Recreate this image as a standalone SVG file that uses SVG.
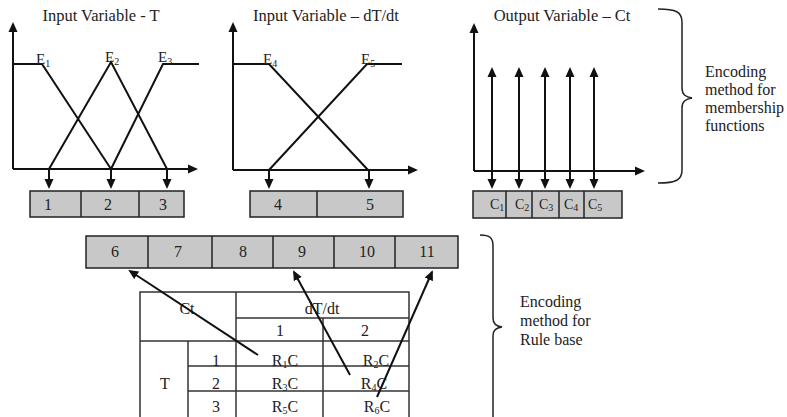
<svg xmlns="http://www.w3.org/2000/svg" width="787" height="417" viewBox="0 0 787 417">
<defs>
<marker id="ah" viewBox="0 0 10 10" refX="8" refY="5" markerWidth="10" markerHeight="10" markerUnits="userSpaceOnUse" orient="auto-start-reverse">
<path d="M0,0.5 L10,5 L0,9.5 z" fill="#111"/>
</marker>
<style>
text{font-family:"Liberation Serif","Times New Roman",serif;fill:#222}
.h{font-size:16.5px;text-anchor:middle}
.t{font-size:16px}
.n{font-size:16px;text-anchor:middle}
.s{font-size:10px}
.tb{font-size:16px;text-anchor:middle}
.ax{stroke:#111;stroke-width:2;fill:none}
.mf{stroke:#111;stroke-width:2;fill:none}
.ar{stroke:#111;stroke-width:2;fill:none;marker-end:url(#ah)}
.da{stroke:#111;stroke-width:2;fill:none;marker-end:url(#ah);marker-start:url(#ah)}
.box{fill:#c8c8c8;stroke:#222;stroke-width:1.5}
.dv{stroke:#222;stroke-width:1.5}
.tl{stroke:#333;stroke-width:1.5;fill:none}
.br{stroke:#222;stroke-width:1.5;fill:none}
</style>
</defs>

<g id="chartT">
<text class="h" x="101" y="21">Input Variable - T</text>
<line class="ar" x1="13" y1="169" x2="13" y2="24"/>
<line class="ar" x1="13" y1="169" x2="196" y2="169"/>
<polyline class="mf" points="13,64 42,64 111,169"/>
<polyline class="mf" points="49,169 111,62 167,169"/>
<polyline class="mf" points="111,169 163,64 199,64"/>
<text x="36" y="64" font-size="15">E<tspan class="s" dy="3">1</tspan></text>
<text x="105" y="62" font-size="15">E<tspan class="s" dy="3">2</tspan></text>
<text x="158" y="62" font-size="15">E<tspan class="s" dy="3">3</tspan></text>
</g>

<g id="chartdT">
<text class="h" x="326" y="21">Input Variable – dT/dt</text>
<line class="ar" x1="233" y1="170" x2="233" y2="24"/>
<line class="ar" x1="233" y1="170" x2="416" y2="170"/>
<polyline class="mf" points="233,64 269,64 368,170"/>
<polyline class="mf" points="269,170 367,64 402,64"/>
<text x="263" y="64" font-size="15">E<tspan class="s" dy="3">4</tspan></text>
<text x="361" y="64" font-size="15">E<tspan class="s" dy="3">5</tspan></text>
</g>

<g id="chartCt">
<text class="h" x="562" y="21">Output Variable – Ct</text>
<line class="ar" x1="474" y1="171" x2="474" y2="25"/>
<line class="ar" x1="474" y1="171" x2="643" y2="171"/>
</g>

<g id="boxes123">
<rect class="box" x="30" y="191" width="154" height="26"/>
<line class="dv" x1="81" y1="191" x2="81" y2="217"/>
<line class="dv" x1="139" y1="191" x2="139" y2="217"/>
<text class="n" x="48" y="210">1</text>
<text class="n" x="108" y="210">2</text>
<text class="n" x="163" y="210">3</text>
</g>

<g id="boxes45">
<rect class="box" x="250" y="191" width="153" height="26"/>
<line class="dv" x1="317" y1="191" x2="317" y2="217"/>
<text class="n" x="278" y="210">4</text>
<text class="n" x="370" y="210">5</text>
</g>

<g id="boxesC">
<rect class="box" x="473" y="191" width="149" height="27"/>
<line class="dv" x1="506" y1="191" x2="506" y2="218"/>
<line class="dv" x1="532" y1="191" x2="532" y2="218"/>
<line class="dv" x1="559" y1="191" x2="559" y2="218"/>
<line class="dv" x1="584" y1="191" x2="584" y2="218"/>
<text x="490" y="209" font-size="14">C<tspan class="s" dy="2">1</tspan></text>
<text x="515" y="209" font-size="14">C<tspan class="s" dy="2">2</tspan></text>
<text x="539" y="209" font-size="14">C<tspan class="s" dy="2">3</tspan></text>
<text x="564" y="209" font-size="14">C<tspan class="s" dy="2">4</tspan></text>
<text x="588" y="209" font-size="14">C<tspan class="s" dy="2">5</tspan></text>
</g>

<g id="boxes6to11">
<rect class="box" x="86" y="236" width="372" height="32"/>
<line class="dv" x1="148" y1="236" x2="148" y2="268"/>
<line class="dv" x1="212" y1="236" x2="212" y2="268"/>
<line class="dv" x1="273" y1="236" x2="273" y2="268"/>
<line class="dv" x1="334" y1="236" x2="334" y2="268"/>
<line class="dv" x1="395" y1="236" x2="395" y2="268"/>
<text class="n" x="115" y="257">6</text>
<text class="n" x="178" y="257">7</text>
<text class="n" x="243" y="257">8</text>
<text class="n" x="302" y="257">9</text>
<text class="n" x="367" y="257">10</text>
<text class="n" x="427" y="257">11</text>
</g>

<g id="ruletable">
<path class="tl" d="M140,417 V292 H409 V417"/>
<line class="tl" x1="236" y1="292" x2="236" y2="417"/>
<line class="tl" x1="236" y1="318" x2="409" y2="318"/>
<line class="tl" x1="323" y1="318" x2="323" y2="417"/>
<line class="tl" x1="140" y1="341" x2="409" y2="341"/>
<line class="tl" x1="188" y1="341" x2="188" y2="417"/>
<line class="tl" x1="188" y1="366" x2="409" y2="366"/>
<line class="tl" x1="188" y1="391" x2="409" y2="391"/>
<text class="tb" x="187" y="314">Ct</text>
<text class="tb" x="322" y="314">dT/dt</text>
<text class="tb" x="280" y="336">1</text>
<text class="tb" x="365" y="336">2</text>
<text class="tb" x="165" y="389">T</text>
<text class="tb" x="216" y="366">1</text>
<text class="tb" x="216" y="389">2</text>
<text class="tb" x="216" y="412">3</text>
<text class="tb" x="285" y="366">R<tspan class="s" dy="2">1</tspan><tspan dy="-2">C</tspan></text>
<text class="tb" x="376" y="366">R<tspan class="s" dy="2">2</tspan><tspan dy="-2">C</tspan></text>
<text class="tb" x="285" y="389">R<tspan class="s" dy="2">3</tspan><tspan dy="-2">C</tspan></text>
<text class="tb" x="374" y="389">R<tspan class="s" dy="2">4</tspan><tspan dy="-2">C</tspan></text>
<text class="tb" x="285" y="412">R<tspan class="s" dy="2">5</tspan><tspan dy="-2">C</tspan></text>
<text class="tb" x="377" y="412">R<tspan class="s" dy="2">6</tspan><tspan dy="-2">C</tspan></text>
</g>

<g id="labelMF">
<path class="br" d="M658,9 C676,9 682,12 682,22 V88 C682,95 686,97 692,98 C686,99 682,101 682,108 V170 C682,180 676,183 658,183"/>
<text class="t" x="705" y="77">Encoding</text>
<text class="t" x="705" y="95">method for</text>
<text class="t" x="705" y="113">membership</text>
<text class="t" x="705" y="131">functions</text>
</g>

<g id="labelRB">
<path class="br" d="M480,235 C490,235 493,238 493,246 V318 C493,324 496,326 502,327 C496,328 493,330 493,336 V417"/>
<text class="t" x="520" y="307">Encoding</text>
<text class="t" x="520" y="326">method for</text>
<text class="t" x="520" y="345">Rule base</text>
</g>

<g id="connectors">
<line class="ar" x1="49" y1="169" x2="49" y2="187"/>
<line class="ar" x1="111" y1="169" x2="111" y2="187"/>
<line class="ar" x1="167" y1="169" x2="167" y2="187"/>
<line class="ar" x1="269" y1="170" x2="269" y2="187"/>
<line class="ar" x1="369" y1="170" x2="369" y2="187"/>
<line class="da" x1="492" y1="69" x2="492" y2="187"/>
<line class="da" x1="519" y1="69" x2="519" y2="187"/>
<line class="da" x1="545" y1="69" x2="545" y2="187"/>
<line class="da" x1="570" y1="69" x2="570" y2="187"/>
<line class="da" x1="594" y1="69" x2="594" y2="187"/>
<line class="ar" x1="258" y1="355" x2="130" y2="271"/>
<line class="ar" x1="350" y1="375" x2="294" y2="272"/>
<line class="ar" x1="377" y1="397" x2="432" y2="272"/>
</g>
</svg>
